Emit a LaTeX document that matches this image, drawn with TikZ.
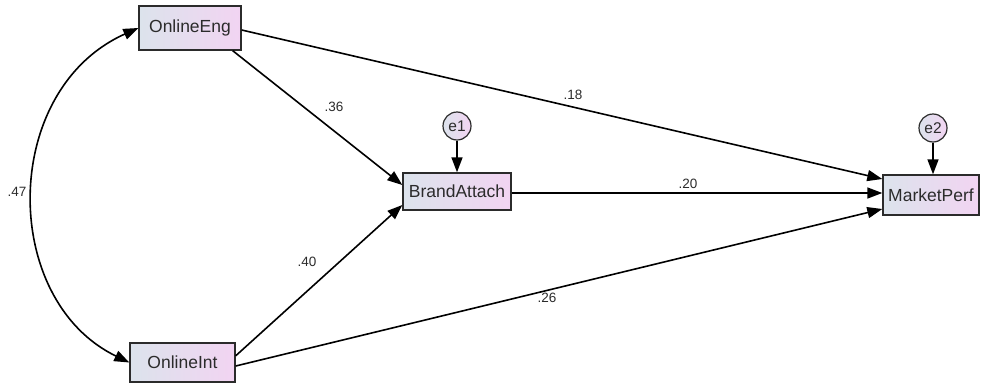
\documentclass[tikz,border=0pt]{standalone}
\usepackage{fontspec}
\setmainfont{Liberation Sans}
\usetikzlibrary{arrows.meta}
\definecolor{boxleft}{HTML}{DCE3EC}
\definecolor{boxright}{HTML}{F2D4F2}
\definecolor{ink}{HTML}{2B2B2B}
\tikzset{
  var/.style={draw=ink, line width=1.4pt, left color=boxleft, right color=boxright,
    inner sep=0pt, font=\fontsize{17.5}{17.5}\selectfont, text=ink},
  err/.style={circle, draw=ink, line width=1.2pt, left color=boxleft, right color=boxright,
    minimum size=28pt, inner sep=0pt, font=\fontsize{15.5}{15.5}\selectfont, text=ink},
  path/.style={line width=1.6pt, -{Triangle[length=15pt,width=11pt]}},
  coef/.style={font=\fontsize{13.5}{13.5}\selectfont, text=ink}
}
\begin{document}
\begin{tikzpicture}[x=1pt, y=-1pt]
\useasboundingbox (0,0) rectangle (981,383);

% observed variables
\node[var, minimum width=102pt, minimum height=44pt] (OE) at (190,28) {OnlineEng};
\node[var, minimum width=105pt, minimum height=39pt] (OI) at (182.5,362.5) {OnlineInt};
\node[var, minimum width=108pt, minimum height=37pt] (BA) at (457,191.5) {BrandAttach};
\node[var, minimum width=96pt, minimum height=40pt] (MP) at (931,195) {MarketPerf};

% error terms
\node[err] (e1) at (457,126) {e1};
\node[err] (e2) at (933,128) {e2};

% structural paths
\draw[path] ([xshift=-9pt]OE.south east) -- ([yshift=6.5pt]BA.west);
\draw[path] ([yshift=-13.5pt]OI.north east) -- ([yshift=-13.5pt]BA.west);
\draw[path] ([yshift=-2pt]OE.east) -- ([yshift=16pt]MP.west);
\draw[path] ([yshift=-1.5pt]BA.east) -- ([yshift=2pt]MP.west);
\draw[path] ([yshift=-3.5pt]OI.east) -- ([yshift=-14pt]MP.west);
\draw[path] (e1) -- (BA);
\draw[path] (e2) -- (e2 |- MP.north);

% covariance
\draw[line width=1.6pt, {Triangle[length=15pt,width=11pt]}-{Triangle[length=15pt,width=11pt]}]
  (OE.west) .. controls (0,90) and (0,300) .. (OI.west);

% coefficients
\node[coef] (c1) at (334,107) {.36};
\node[coef] (c2) at (573,95) {.18};
\node[coef] (c3) at (688,184) {.20};
\node[coef] (c4) at (547,298) {.26};
\node[coef] (c5) at (307,262) {.40};
\node[coef] (c6) at (17,192) {.47};
\end{tikzpicture}
\end{document}
